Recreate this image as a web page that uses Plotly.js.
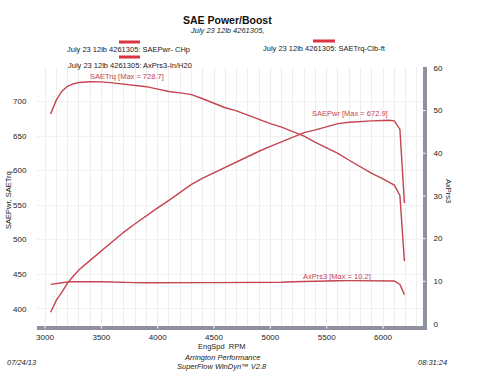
<!DOCTYPE html>
<html>
<head>
<meta charset="utf-8">
<script src="https://cdn.plot.ly/plotly-3.0.1.min.js"></script>
<style>html,body{margin:0;padding:0;background:#fff}#chart{width:500px;height:386px}</style>
</head>
<body>
<div id="chart"></div>
<script>
const rpm = [3050,3100,3150,3200,3250,3300,3400,3500,3600,3700,3800,3900,4000,4100,4200,4300,4400,4500,4600,4700,4800,4900,5000,5100,5200,5300,5400,5500,5600,5700,5800,5900,6000,6050,6100,6150,6190];
const saeTrq = [682,702,715,722,725.5,727.5,728.7,728.5,727,725,723.5,721.5,718,714.5,712.5,710,704,697,691,686.5,680,674,668,663,657,650,641,633,625,615,605,596,588,584,579,564,469];
const saePwr = [395,412,424,437,447,456,470,484,498,511,523,535,546,557,569,580,589,597,605,613,621,628,635,642,649,655,659,664,668,670,671.5,672,672.5,672.9,672,660,553];
const axPrs3 = [9.3,9.5,9.7,9.85,9.9,9.95,9.95,9.9,9.8,9.75,9.7,9.68,9.65,9.65,9.65,9.67,9.7,9.7,9.7,9.72,9.75,9.75,9.75,9.8,9.9,10.0,10.1,10.12,10.15,10.18,10.2,10.18,10.15,10.12,10.1,9.3,6.9];
const xTicks = [3000,3500,4000,4500,5000,5500,6000];
const yTicks = [400,450,500,550,600,650,700];
const y2Ticks = [0,10,20,30,40,50,60];
const seriesNames = ["July 23 12lb 4261305: SAEPwr- CHp","July 23 12lb 4261305: SAETrq-Clb-ft","July 23 12lb 4261305: AxPrs3-In/H20"];

const red = '#c4444f';
const legRed = '#d8333f';
const barGrey = '#8d909e';
const FONT = 'Liberation Sans, Arial, sans-serif';

const traces = [
  {x: rpm, y: saePwr, name: seriesNames[0], type: 'scatter', mode: 'lines', line: {color: red, width: 1.4}, yaxis: 'y'},
  {x: rpm, y: saeTrq, name: seriesNames[1], type: 'scatter', mode: 'lines', line: {color: red, width: 1.4}, yaxis: 'y'},
  {x: rpm, y: axPrs3, name: seriesNames[2], type: 'scatter', mode: 'lines', line: {color: red, width: 1.4}, yaxis: 'y2'}
];

const L = 37, R = 423, T = 67, B = 326;
function px(x){ return (x - L) / (R - L); }
function py(y){ return (B - y) / (B - T); }

const ann = [];
function txt(text, x, y, size, opts){
  ann.push(Object.assign({text: text, xref: 'paper', yref: 'paper', x: px(x), y: py(y), showarrow: false,
    xanchor: 'center', yanchor: 'middle', font: {family: FONT, size: size, color: '#222'}}, opts || {}));
}
txt('<b>SAE Power/Boost</b>', 227, 20, 10.5, {font: {family: FONT, size: 10.5, color: '#111'}});
txt('<i>July 23 12lb 4261305,</i>', 227, 30, 7.5);
txt(seriesNames[0], 128, 50, 7.5);
txt(seriesNames[1], 324, 49, 7.5);
txt(seriesNames[2], 130, 65, 7.5);
txt('SAEPwr, SAETrq', 8, 200, 7.5, {textangle: -90});
txt('AxPrs3', 449, 191, 7.5, {textangle: 90});
txt('EngSpd  RPM', 222, 346, 7.5);
txt('<i>Arrington Performance</i>', 222, 357, 7.5);
txt('<i>SuperFlow WinDyn™ V2.8</i>', 222, 366, 7.5);
txt('<i>07/24/13</i>', 22, 362, 7.5);
txt('<i>08:31:24</i>', 432, 362, 7.5);

ann.push({text: 'SAETrq [Max = 728.7]', xref: 'x', yref: 'y', x: 3730, y: 736, showarrow: false, font: {family: FONT, size: 7.5, color: red}});
ann.push({text: 'SAEPwr [Max = 672.9]', xref: 'x', yref: 'y', x: 5705, y: 682, showarrow: false, font: {family: FONT, size: 7.5, color: red}});
ann.push({text: 'AxPrs3 [Max = 10.2]', xref: 'x', yref: 'y2', x: 5590, y: 11.1, showarrow: false, font: {family: FONT, size: 7.5, color: red}});

const shapes = [];
function sample(x0, x1, y){
  shapes.push({type: 'line', xref: 'paper', yref: 'paper', x0: px(x0), x1: px(x1), y0: py(y), y1: py(y), line: {color: legRed, width: 3}});
}
sample(119, 140, 42);
sample(313, 335, 41);
sample(119, 140, 57);
// white tick notches through the grey axis bars
xTicks.forEach(v => shapes.push({type: 'line', layer: 'above', xref: 'x', yref: 'paper', x0: v, x1: v, y0: py(328.5), y1: py(323.5), line: {color: '#ffffff', width: 1}}));
y2Ticks.slice(1, 6).forEach(v => shapes.push({type: 'line', layer: 'above', xref: 'paper', yref: 'y2', x0: px(420.5), x1: px(425.5), y0: v, y1: v, line: {color: '#ffffff', width: 1}}));

const layout = {
  width: 500, height: 386,
  margin: {l: L, r: 500 - R, t: T, b: 386 - B, pad: 0},
  paper_bgcolor: '#fff', plot_bgcolor: '#fff',
  showlegend: false,
  font: {family: FONT, size: 8, color: '#222'},
  xaxis: {
    range: [2929, 6355], tickvals: xTicks, ticktext: xTicks.map(String),
    showgrid: true, gridcolor: '#ededed', gridwidth: 1,
    minor: {dtick: 100, tick0: 3000, showgrid: true, gridcolor: '#ededed', gridwidth: 1},
    showline: true, linecolor: barGrey, linewidth: 4,
    ticks: '', tickfont: {family: FONT, size: 8, color: '#222'}, zeroline: false
  },
  yaxis: {
    range: [375, 750], tickvals: yTicks,
    showgrid: true, gridcolor: '#f0f0f0', gridwidth: 1, zeroline: false,
    showline: false, ticks: 'outside', ticklen: 8, tickcolor: 'rgba(0,0,0,0)',
    tickfont: {family: FONT, size: 8, color: '#222'}
  },
  yaxis2: {
    overlaying: 'y', side: 'right', range: [-0.45, 60.2], tickvals: y2Ticks,
    showgrid: false, zeroline: false,
    showline: true, linecolor: barGrey, linewidth: 4,
    ticks: 'outside', ticklen: 5, tickcolor: 'rgba(0,0,0,0)',
    tickfont: {family: FONT, size: 8, color: '#222'}
  },
  annotations: ann,
  shapes: shapes
};

Plotly.newPlot('chart', traces, layout, {staticPlot: true, displayModeBar: false});
</script>
</body>
</html>
